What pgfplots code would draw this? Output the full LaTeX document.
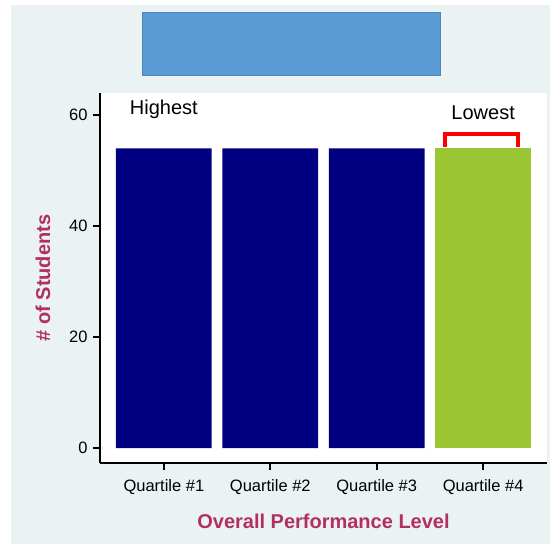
\documentclass[border=0pt]{standalone}
\usepackage{fontspec}
\setmainfont{Liberation Sans}
\usepackage{pgfplots}
\pgfplotsset{compat=1.18}

\definecolor{panel}{HTML}{EAF2F4}
\definecolor{titlebox}{HTML}{5B9BD5}
\definecolor{navybar}{RGB}{0,0,128}
\definecolor{greenbar}{RGB}{154,198,52}
\definecolor{labelred}{RGB}{178,48,96}

\begin{document}
\begin{tikzpicture}
% page and panel
\fill[white] (0pt,0pt) rectangle (550pt,544pt);
\fill[panel] (11pt,0pt) rectangle (550pt,539pt);
% empty title box
\draw[titlebox!85!black, fill=titlebox, line width=0.6pt] (142pt,469pt) rectangle (440pt,532pt);

\begin{axis}[
    at={(100pt,81pt)}, anchor=south west,
    width=447pt, height=370pt,
    scale only axis,
    axis background/.style={fill=white},
    axis x line*=bottom,
    axis y line*=left,
    axis line style={line width=1.6pt},
    xmin=0.4, xmax=4.6,
    ymin=-2.7, ymax=64,
    xtick={1,2,3,4},
    xticklabels={Quartile \#1, Quartile \#2, Quartile \#3, Quartile \#4},
    ytick={0,20,40,60},
    tick align=outside,
    major tick length=7pt,
    xtick style={black, line width=1.8pt},
    ytick style={black, line width=1.8pt},
    tick label style={font=\fontsize{16.5}{18}\selectfont, black},
    xticklabel style={yshift=-6pt},
    yticklabel style={xshift=-2pt},
    /pgf/number format/assume math mode=true,
    xlabel={Overall Performance Level},
    ylabel={\# of Students},
    label style={font=\fontsize{20}{22}\bfseries, text=labelred},
    xlabel style={at={(axis description cs:0.5,-0.159)}, anchor=center},
    ylabel style={at={(axis description cs:-0.1275,0.5)}, anchor=center},
    ybar, bar width=0.9, bar shift=0pt,
    clip=false,
]
\addplot[fill=navybar, draw=none] coordinates {(1,54) (2,54) (3,54)};
\addplot[fill=greenbar, draw=none] coordinates {(4,54)};

\node[font=\fontsize{20}{22}\selectfont] at (axis cs:1,61) {Highest};
\node[font=\fontsize{20}{22}\selectfont] at (axis cs:4,60.5) {Lowest};
\draw[red, line width=4pt, line join=miter]
    (axis cs:3.64,54.2) -- (axis cs:3.64,56.6) -- (axis cs:4.33,56.6) -- (axis cs:4.33,54.2);
\end{axis}
\end{tikzpicture}
\end{document}
